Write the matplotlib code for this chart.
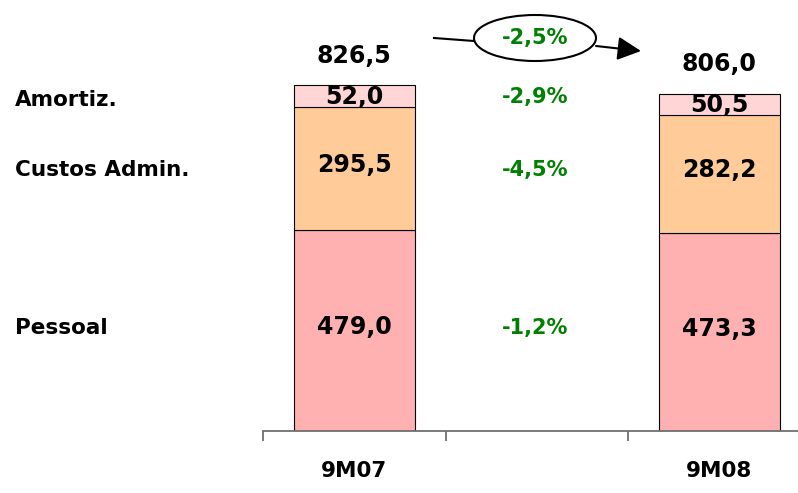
import matplotlib
matplotlib.use("Agg")
import matplotlib.pyplot as plt
from matplotlib.patches import Ellipse, FancyArrowPatch

categories = ["9M07", "", "9M08"]
pessoal = [479.0, None, 473.3]
custos = [295.5, None, 282.2]
amortiz = [52.0, None, 50.5]
totals = [826.5, None, 806.0]
row_labels = ["Amortiz.", "Custos Admin.", "Pessoal"]

colors = {"pessoal": "#FFB0B0", "custos": "#FFCC99", "amortiz": "#FFD5D5"}
green = "#008000"
W, H = 798, 493

def fmt(v, d=1):
    return f"{v:.{d}f}".replace(".", ",")

fig = plt.figure(figsize=(W / 100, H / 100), dpi=100)
ax = fig.add_axes([263 / W, (H - 431) / H, 1 - 263 / W, 431 / H])

font = dict(family="DejaVu Sans", fontweight="bold")
bw = 0.663
for i, cat in enumerate(categories):
    if pessoal[i] is None:
        continue
    p, c, a = pessoal[i], custos[i], amortiz[i]
    ax.bar(i, p, bw, color=colors["pessoal"], edgecolor="black", linewidth=0.8)
    ax.bar(i, c, bw, bottom=p, color=colors["custos"], edgecolor="black", linewidth=0.8)
    ax.bar(i, a, bw, bottom=p + c, color=colors["amortiz"], edgecolor="black", linewidth=0.8)
    ax.text(i, p / 2 + 8, fmt(p), ha="center", va="center", fontsize=17, color="black", **font)
    ax.text(i, p + c / 2 + 8, fmt(c), ha="center", va="center", fontsize=17, color="black", **font)
    ax.text(i, p + c + a / 2 - 2, fmt(a), ha="center", va="center", fontsize=17, color="black", **font)
    ax.text(i, totals[i] + 70, fmt(totals[i]), ha="center", va="center", fontsize=17, color="black", **font)
    ax.text(i, -95, cat, ha="center", va="center", fontsize=15.5, color="black", clip_on=False, **font)

# spines / ticks
for s in ["top", "right", "left"]:
    ax.spines[s].set_visible(False)
ax.spines["bottom"].set_color("#707070")
ax.spines["bottom"].set_linewidth(1.3)
ax.set_yticks([])
ax.set_xticks([-0.5, 0.5, 1.5, 2.5])
ax.set_xticklabels([])
ax.tick_params(axis="x", direction="out", length=7.5, width=1.3, color="#707070")
ax.set_xlim(-0.5, (W - 263) / 182.5 - 0.5)
ax.set_ylim(0, 431 / 0.4186)

# row labels
ys = [100, 170, 328]
for lab, y in zip(row_labels, ys):
    fig.text(15 / W, 1 - y / H, lab, ha="left", va="center", fontsize=15.5, color="black", **font)

# percentage changes
pct_a = (amortiz[2] / amortiz[0] - 1) * 100
pct_c = (custos[2] / custos[0] - 1) * 100
pct_p = (pessoal[2] / pessoal[0] - 1) * 100
pct_t = (totals[2] / totals[0] - 1) * 100
for v, y in zip([pct_a, pct_c, pct_p], [97, 170, 328]):
    fig.text(535 / W, 1 - y / H, fmt(v) + "%", ha="center", va="center", fontsize=15, color=green, **font)

fig.text(535 / W, 1 - 38 / H, fmt(pct_t) + "%", ha="center", va="center", fontsize=15, color=green, **font)
ell = Ellipse((535 / W, 1 - 38 / H), 122 / W, 46 / H, transform=fig.transFigure,
              facecolor="none", edgecolor="black", linewidth=1.5)
fig.add_artist(ell)
fig.add_artist(plt.Line2D([434 / W, 474 / W], [1 - 38 / H, 1 - 41 / H], transform=fig.transFigure,
                          color="black", linewidth=1.5))
arr = FancyArrowPatch((596 / W, 1 - 46 / H), (641 / W, 1 - 51 / H), transform=fig.transFigure,
                      arrowstyle="-|>", mutation_scale=36, color="black", linewidth=1.5,
                      shrinkA=0, shrinkB=0)
fig.add_artist(arr)

fig.savefig("out.png", dpi=100)
